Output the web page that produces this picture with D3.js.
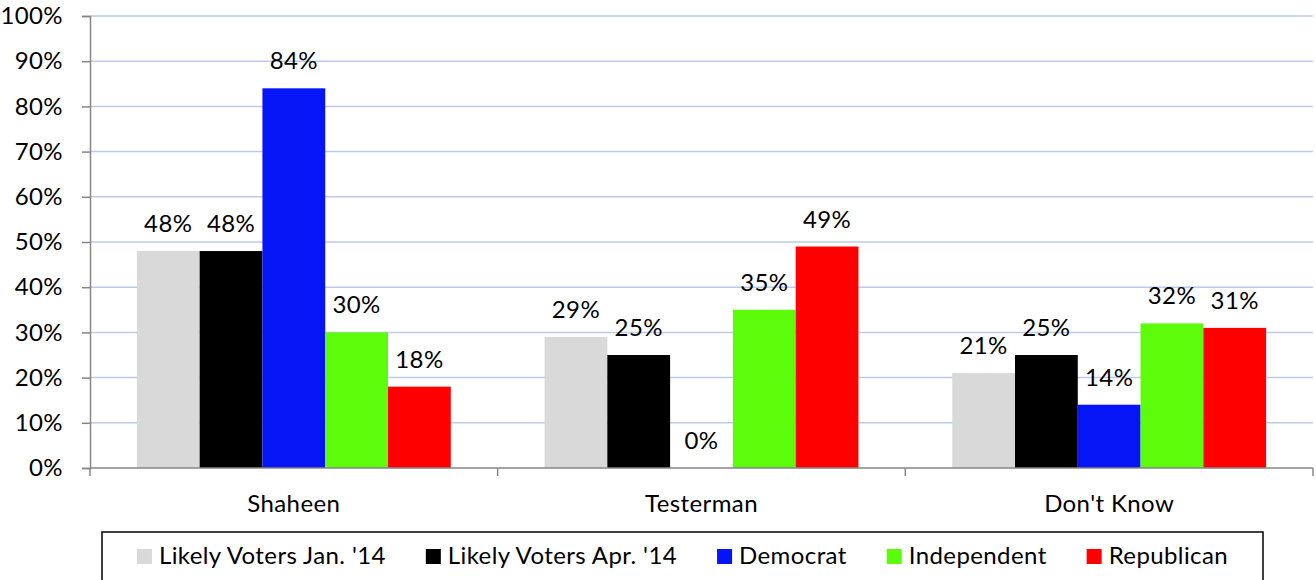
<!DOCTYPE html>
<html>
<head>
<meta charset="utf-8">
<script src="https://cdn.jsdelivr.net/npm/d3@7"></script>
<style>
  body { margin: 0; background: #fff; }
  text { font-family: Lato, "Open Sans", sans-serif; fill: #000; letter-spacing: 0.4px; }
</style>
</head>
<body>
<svg width="1316" height="580"></svg>
<script>
var categories = ["Shaheen", "Testerman", "Don't Know"];
var seriesNames = ["Likely Voters Jan. '14", "Likely Voters Apr. '14", "Democrat", "Independent", "Republican"];
var colors = ["#d9d9d9", "#000000", "#0515f5", "#5cfc0a", "#ff0000"];
var janValues = [48, 29, 21];
var aprValues = [48, 25, 25];
var demValues = [84, 0, 14];
var indValues = [30, 35, 32];
var repValues = [18, 49, 31];
var yTicks = [0, 10, 20, 30, 40, 50, 60, 70, 80, 90, 100];

var allSeries = [janValues, aprValues, demValues, indValues, repValues];
var fs = 24;

var svg = d3.select("svg"),
  margin = {top: 16, left: 90, right: 3},
  plotBottom = 468,
  width = +svg.attr("width");

var x0 = d3.scaleBand()
  .domain(categories)
  .range([margin.left, width - margin.right])
  .paddingInner(0.23)
  .paddingOuter(0.115);

var x1 = d3.scaleBand()
  .domain(d3.range(seriesNames.length))
  .range([0, x0.bandwidth()]);

var y = d3.scaleLinear().domain([0, 100]).range([plotBottom, margin.top]);

// gridlines
svg.append("g")
  .selectAll("line")
  .data(yTicks.slice(1))
  .enter().append("line")
  .attr("x1", margin.left)
  .attr("x2", width - margin.right)
  .attr("y1", function(d) { return y(d); })
  .attr("y2", function(d) { return y(d); })
  .attr("stroke", "#bccbea")
  .attr("stroke-width", 1.5);

// y axis
var yAxis = svg.append("g")
  .attr("transform", "translate(" + margin.left + ",0)")
  .call(d3.axisLeft(y).tickValues(yTicks).tickSize(8).tickPadding(19)
    .tickFormat(function(d) { return d + "%"; }));
yAxis.select(".domain").attr("stroke", "#868686").attr("stroke-width", 1.5);
yAxis.selectAll(".tick line").attr("stroke", "#868686").attr("stroke-width", 1.5);
yAxis.selectAll(".tick text").attr("font-size", fs).attr("font-family", "Lato, sans-serif").attr("fill", "#000");

// bars
var groups = svg.append("g")
  .selectAll("g")
  .data(categories)
  .enter().append("g")
  .attr("transform", function(d) { return "translate(" + x0(d) + ",0)"; });

groups.selectAll("rect")
  .data(function(d, ci) { return allSeries.map(function(s, si) { return {si: si, v: s[ci]}; }); })
  .enter().append("rect")
  .attr("x", function(d) { return x1(d.si); })
  .attr("width", x1.bandwidth())
  .attr("y", function(d) { return y(d.v); })
  .attr("height", function(d) { return plotBottom - y(d.v); })
  .attr("fill", function(d) { return colors[d.si]; });

groups.selectAll("text")
  .data(function(d, ci) { return allSeries.map(function(s, si) { return {si: si, v: s[ci]}; }); })
  .enter().append("text")
  .attr("x", function(d) { return x1(d.si) + x1.bandwidth() / 2; })
  .attr("y", function(d) { return y(d.v) - 19; })
  .attr("text-anchor", "middle")
  .attr("font-size", fs)
  .text(function(d) { return d.v + "%"; });

// x axis
var xAxis = svg.append("g")
  .attr("transform", "translate(0," + plotBottom + ")");
xAxis.append("line")
  .attr("x1", margin.left).attr("x2", width - margin.right)
  .attr("stroke", "#868686").attr("stroke-width", 1.5);
var edges = d3.range(categories.length + 1).map(function(i) { return margin.left + i * x0.step(); });
xAxis.selectAll(".tk")
  .data(edges)
  .enter().append("line")
  .attr("class", "tk")
  .attr("x1", function(d) { return d; }).attr("x2", function(d) { return d; })
  .attr("y1", 0).attr("y2", 8)
  .attr("stroke", "#868686").attr("stroke-width", 1.5);
xAxis.selectAll("text")
  .data(categories)
  .enter().append("text")
  .attr("x", function(d) { return x0(d) + x0.bandwidth() / 2; })
  .attr("y", 44)
  .attr("text-anchor", "middle")
  .attr("font-size", fs)
  .text(function(d) { return d; });

// legend
var legend = svg.append("g");
legend.append("rect")
  .attr("x", 102).attr("y", 532)
  .attr("width", 1161).attr("height", 60)
  .attr("fill", "#fff").attr("stroke", "#000").attr("stroke-width", 1.5);

var items = legend.selectAll(".item")
  .data(seriesNames)
  .enter().append("g")
  .attr("class", "item");
items.append("rect")
  .attr("width", 15).attr("height", 15)
  .attr("y", 549)
  .attr("fill", function(d, i) { return colors[i]; });
items.append("text")
  .attr("x", 22)
  .attr("y", 564)
  .attr("font-size", fs)
  .text(function(d) { return d; });

var widths = [];
items.each(function() { widths.push(this.getBBox().width); });
var gap = 40;
var total = d3.sum(widths) + gap * (widths.length - 1);
var cx = 102 + (1161 - total) / 2;
items.attr("transform", function(d, i) {
  var off = cx + d3.sum(widths.slice(0, i)) + gap * i;
  return "translate(" + off + ",0)";
});
</script>
</body>
</html>
